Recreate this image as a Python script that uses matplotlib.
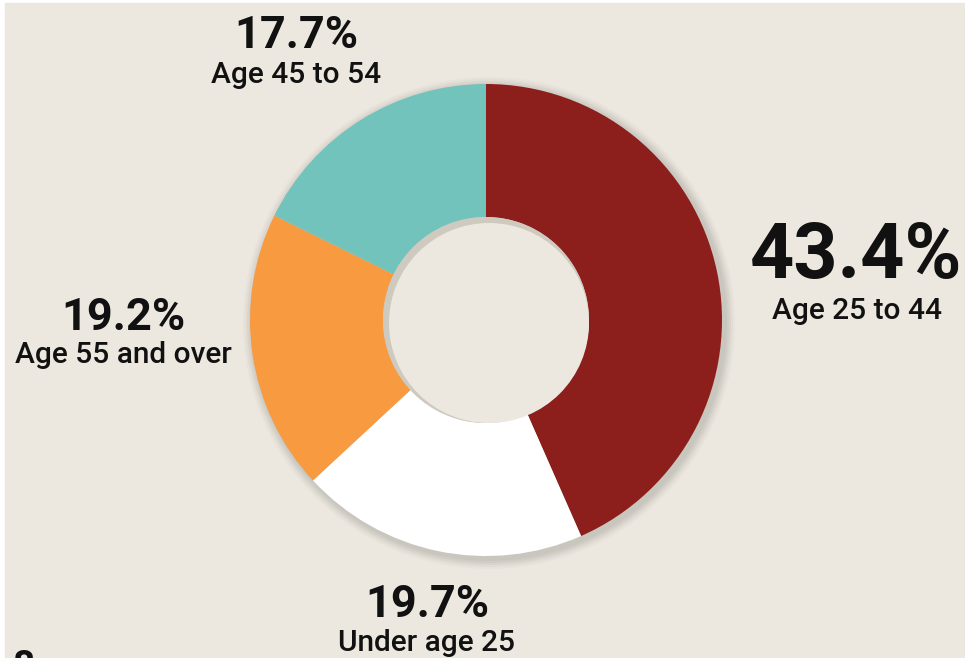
import matplotlib.pyplot as plt
from matplotlib.patches import Rectangle, Circle

# donut data, clockwise from 12 o'clock
shares = [43.4, 19.7, 19.2, 17.7]
pct_labels = ["43.4%", "19.7%", "19.2%", "17.7%"]
age_labels = ["Age 25 to 44", "Under age 25", "Age 55 and over", "Age 45 to 54"]
colors = ["#8C1F1C", "#FFFFFF", "#F89A40", "#73C3BD"]

bg = "#ECE8DF"
W, H = 965, 658

fig = plt.figure(figsize=(9.65, 6.58), dpi=100)
fig.patch.set_facecolor("white")
ax = fig.add_axes([0, 0, 1, 1])

# beige panel with thin white strip left and top
ax.add_patch(Rectangle((5, 0), W - 5, H - 3, color=bg, zorder=0))

cx, cy = 486, H - 320
R = 236
r_in = 103

# soft shadow under the ring
for i, a in enumerate([0.04, 0.035, 0.03, 0.025, 0.02]):
    ax.add_patch(Circle((cx + 3, cy - 3), R + 2 + i * 2, color="black", alpha=a, lw=0, zorder=1))

ax.pie(shares, colors=colors, startangle=90, counterclock=False, radius=R,
       center=(cx, cy), wedgeprops=dict(width=R - r_in, linewidth=0, zorder=2),
       frame=True)
ax.set_xlim(0, W)
ax.set_ylim(0, H)
ax.set_aspect("equal")
ax.axis("off")

# hole with a faint inner shadow
ax.add_patch(Circle((cx, cy), r_in, color="#CFCAC0", lw=0, zorder=3))
ax.add_patch(Circle((cx + 3, cy - 3), r_in - 3, color=bg, lw=0, zorder=4))

font = "Roboto"
# label positions (pixel space, y from top)
pct_pos = [(856, 257), (427, 605), (123, 318), (296, 36)]
age_pos = [(857, 311), (427, 643), (123, 355), (296, 75)]
pct_sizes = [55.5, 32.5, 32.5, 32.5]
age_sizes = [21.5, 21.5, 21.5, 21.5]

for i in range(4):
    px, py = pct_pos[i]
    ax.text(px, H - py, pct_labels[i], ha="center", va="center", fontsize=pct_sizes[i],
            fontweight="bold", family=font, color="#111111", zorder=10)
    qx, qy = age_pos[i]
    ax.text(qx, H - qy, age_labels[i], ha="center", va="center", fontsize=age_sizes[i],
            fontweight="medium", family=font, color="#111111", zorder=10)

# cut-off text at bottom left
ax.text(12, H - 668, "8", ha="left", va="center", fontsize=28, fontweight="bold",
        family=font, color="#111111", zorder=10)

fig.savefig("out.png", dpi=100, facecolor="white")
